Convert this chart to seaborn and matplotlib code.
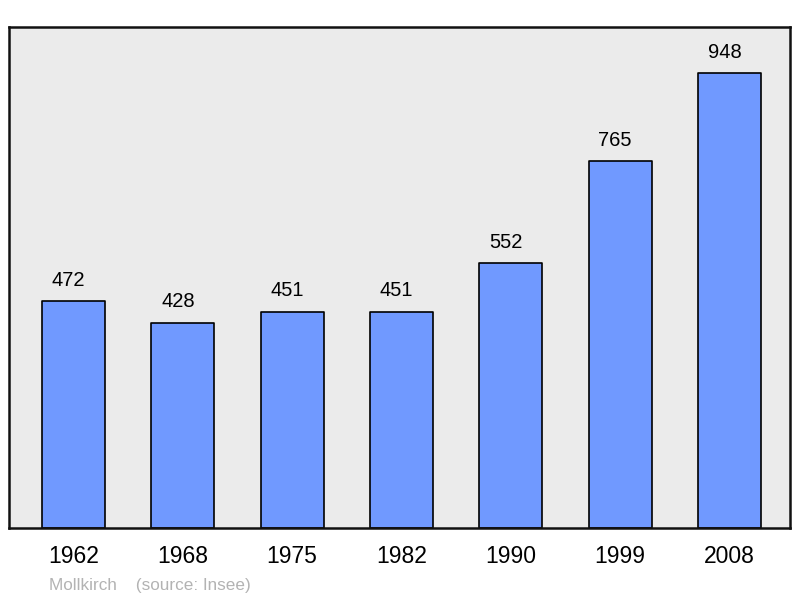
import matplotlib
matplotlib.use("Agg")
import matplotlib.pyplot as plt
import seaborn as sns
import pandas as pd

years = ["1962", "1968", "1975", "1982", "1990", "1999", "2008"]
population = [472, 428, 451, 451, 552, 765, 948]

df = pd.DataFrame({"year": years, "pop": population})

sns.set_style("white")
plt.rcParams['font.family'] = ['Liberation Sans', 'DejaVu Sans']

fig = plt.figure(figsize=(8, 5.98), dpi=100)
ax = fig.add_axes([0.01125, 0.117, 0.97625, 0.838])
ax.set_facecolor("#ebebeb")

sns.barplot(data=df, x="year", y="pop", color="#7099ff", saturation=1,
            width=0.576, edgecolor="black", linewidth=1.2, ax=ax)
for p in ax.patches:
    p.set_joinstyle("round")

for i, v in enumerate(population):
    ax.annotate(str(v), (i, v), xytext=(-3.5, 11), textcoords="offset points",
                ha="center", va="baseline", fontsize=14.5, color="black")

ax.set_xlim(-0.59, 6.555)
ax.set_ylim(0, 1044)
ax.set_yticks([])
ax.set_xlabel("")
ax.set_ylabel("")
ax.tick_params(axis="x", length=0, labelsize=16.5, pad=12)
for lbl in ax.get_xticklabels():
    lbl.set_color("black")
for s in ax.spines.values():
    s.set_visible(True)
    s.set_color("#111111")
    s.set_linewidth(1.8)

fig.text(0.061, (598 - 590) / 598, "Mollkirch    (source: Insee)", color="#b3b3b3",
         fontsize=12.3, ha="left", va="baseline")

fig.savefig("out.png", dpi=100)
